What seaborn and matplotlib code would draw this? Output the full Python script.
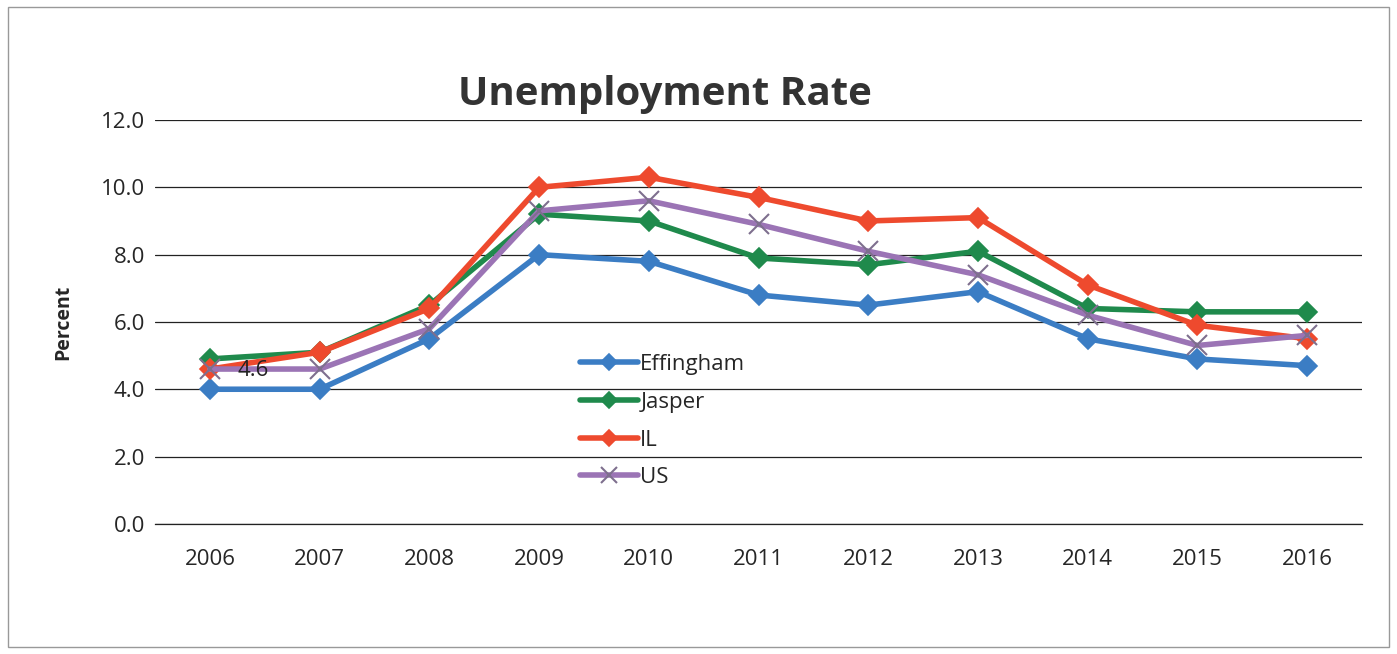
import matplotlib
matplotlib.use("Agg")
import matplotlib.pyplot as plt
import seaborn as sns
import pandas as pd

years = ["2006", "2007", "2008", "2009", "2010", "2011", "2012", "2013", "2014", "2015", "2016"]
effingham = [4.0, 4.0, 5.5, 8.0, 7.8, 6.8, 6.5, 6.9, 5.5, 4.9, 4.7]
jasper = [4.9, 5.1, 6.5, 9.2, 9.0, 7.9, 7.7, 8.1, 6.4, 6.3, 6.3]
il = [4.6, 5.1, 6.4, 10.0, 10.3, 9.7, 9.0, 9.1, 7.1, 5.9, 5.5]
us = [4.6, 4.6, 5.8, 9.3, 9.6, 8.9, 8.1, 7.4, 6.2, 5.3, 5.6]
series_names = ["Effingham", "Jasper", "IL", "US"]
yticks = [0.0, 2.0, 4.0, 6.0, 8.0, 10.0, 12.0]

sns.set_theme(style="white")
plt.rcParams['font.family'] = ['Open Sans', 'DejaVu Sans']

palette = {"Effingham": "#3B7DC4", "Jasper": "#1F8A4C", "IL": "#EE4A2E", "US": "#9B74B5"}
markers = {"Effingham": "D", "Jasper": "D", "IL": "D", "US": "x"}

fig = plt.figure(figsize=(13.97, 6.54), dpi=100)
ax = fig.add_axes([0.111, 0.199, 0.864, 0.6175])

for name, vals in zip(series_names, [effingham, jasper, il, us]):
    d = pd.DataFrame({"idx": range(len(years)), "Value": vals})
    kw = dict(markersize=10, markeredgewidth=1.2, markeredgecolor=palette[name])
    if name == "US":
        kw = dict(markersize=14, markeredgewidth=1.5, markeredgecolor="#7E6F8E")
    sns.lineplot(data=d, x="idx", y="Value", color=palette[name], marker=markers[name],
                 linewidth=4, label=name, ax=ax, **kw)

ax.set_xlim(-0.5, 10.5)
ax.set_ylim(0, 12)
ax.set_yticks(yticks)
ax.set_yticklabels([f"{t:.1f}" for t in yticks], fontsize=16)
ax.set_xticks(range(len(years)))
ax.set_xticklabels(years, fontsize=16)
ax.tick_params(axis='x', length=0, pad=18)
ax.tick_params(axis='y', length=0, pad=7)
ax.grid(axis='y', color='#222222', linewidth=0.9)
ax.set_axisbelow(True)
for s in ["top", "right", "left"]:
    ax.spines[s].set_visible(False)
ax.spines["bottom"].set_color('#222222')
ax.spines["bottom"].set_linewidth(0.9)
ax.set_xlabel("")
ax.set_ylabel("Percent", fontsize=14, fontweight='bold', labelpad=20)

ax.annotate(f"{us[0]:.1f}", xy=(0, us[0]), xytext=(20, -1), textcoords='offset points',
            fontsize=16, va='center', ha='left', color='#222222')

handles, labels = ax.get_legend_handles_labels()
leg = ax.legend(handles, labels, loc='upper left', bbox_to_anchor=(0.345, 0.442),
                frameon=False, fontsize=16, handlelength=2.6, handletextpad=0.1,
                labelspacing=0.75, borderaxespad=0, markerscale=0.8)
for h in leg.legend_handles:
    h.set_linewidth(4)

fig.text(0.476, 0.855, "Unemployment Rate", fontsize=29, fontweight='bold',
         ha='center', va='center', color='#333333')

border = plt.Rectangle((0.006, 0.01), 0.988, 0.98, transform=fig.transFigure,
                       fill=False, edgecolor='#999999', linewidth=1)
fig.patches.append(border)

fig.savefig("out.png", dpi=100, facecolor='white')
